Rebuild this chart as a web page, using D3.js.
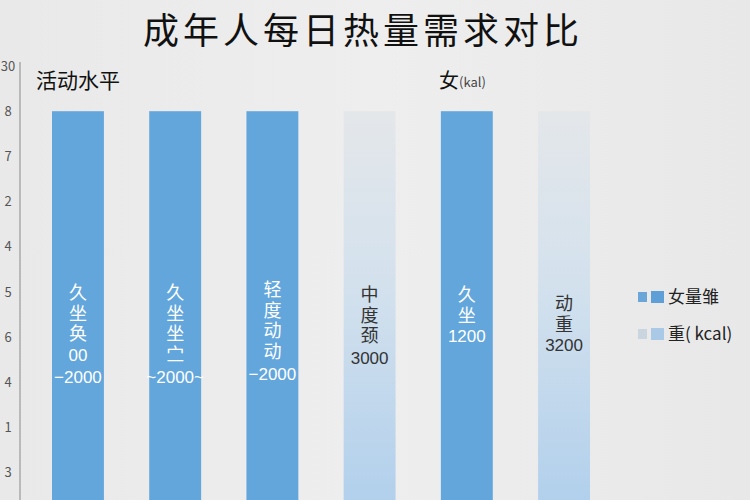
<!DOCTYPE html>
<html>
<head>
<meta charset="utf-8">
<script src="https://cdn.jsdelivr.net/npm/d3@7"></script>
<style>
  body { margin: 0; background: #ebebeb; }
  svg { display: block; font-family: 'Noto Sans CJK SC', 'Noto Sans', sans-serif; }
</style>
</head>
<body>
<svg width="750" height="500"></svg>
<script>
// chart data
const categories = ['a', 'b', 'c', 'd', 'e', 'f'];
const barHeights = [8, 8, 8, 8, 8, 8];
const barKinds = ['dark', 'dark', 'dark', 'light', 'dark', 'light'];
const barLabels = [
  ['久', '坐', '奂', '00', '−2000'],
  ['久', '坐', '坐', '㝉', '~2000~'],
  ['轻', '度', '动', '动', '−2000'],
  ['中', '度', '颈', '3000'],
  ['久', '坐', '1200'],
  ['动', '重', '3200'],
];
// y tick labels, bottom to top
const yTickLabels = ['3', '1', '4', '6', '5', '4', '2', '7', '8', '30'];
const legendLabels = ['女量雏', '重( kcal)'];

const svg = d3.select('svg'),
  width = +svg.attr('width'),
  height = +svg.attr('height');

const defs = svg.append('defs');
const bg = defs.append('linearGradient').attr('id', 'bg').attr('x1', 0).attr('x2', 1);
bg.append('stop').attr('offset', '0%').attr('stop-color', '#e9e9e9');
bg.append('stop').attr('offset', '50%').attr('stop-color', '#eeeeee');
bg.append('stop').attr('offset', '100%').attr('stop-color', '#e8e8e8');

const light = defs.append('linearGradient').attr('id', 'light')
  .attr('x1', 0).attr('x2', 0).attr('y1', 0).attr('y2', 1);
light.append('stop').attr('offset', '0%').attr('stop-color', '#e4e7ea');
light.append('stop').attr('offset', '45%').attr('stop-color', '#d3e1ed');
light.append('stop').attr('offset', '100%').attr('stop-color', '#b2d0ec');

svg.append('rect').attr('width', width).attr('height', height).attr('fill', 'url(#bg)');

const x = d3.scaleBand()
  .domain(categories)
  .range([52, 590])
  .paddingInner(0.466)
  .paddingOuter(0);

const y = d3.scaleLinear().domain([-0.6, 9]).range([height, 66]);

// y axis
svg.append('line')
  .attr('x1', 20).attr('x2', 20)
  .attr('y1', 62).attr('y2', height)
  .attr('stroke', '#9a9a9a').attr('stroke-width', 1.2);

svg.append('g')
  .selectAll('text')
  .data(yTickLabels)
  .join('text')
  .attr('x', 8)
  .attr('y', (d, i) => y(i))
  .attr('dy', '0.35em')
  .attr('text-anchor', 'middle')
  .attr('font-size', 13)
  .attr('fill', '#555')
  .text((d) => d);

// bars
svg.append('g')
  .selectAll('rect')
  .data(categories)
  .join('rect')
  .attr('x', (d) => x(d))
  .attr('y', (d, i) => y(barHeights[i]))
  .attr('width', x.bandwidth())
  .attr('height', (d, i) => y(-0.6) - y(barHeights[i]))
  .attr('fill', (d, i) => (barKinds[i] === 'dark' ? '#62a6dc' : 'url(#light)'));

// labels inside bars, one text per bar, one line per tspan
const labelTop = [293, 293, 290, 295, 295, 304];
categories.forEach(function (c, i) {
  const lines = barLabels[i];
  const dark = barKinds[i] === 'dark';
  const cx = x(c) + x.bandwidth() / 2;
  const t = svg.append('text')
    .attr('x', cx)
    .attr('y', labelTop[i])
    .attr('text-anchor', 'middle')
    .style('font-family', "'Liberation Sans', 'Noto Sans CJK SC', sans-serif")
    .attr('fill', dark ? '#ffffff' : '#333');
  t.selectAll('tspan')
    .data(lines)
    .join('tspan')
    .attr('x', cx)
    .attr('dy', (d, j) => (j === 0 ? '0.35em' : j === lines.length - 1 && lines.length > 3 ? 22 : 20.5))
    .attr('font-size', (d) => (/[0-9]/.test(d) ? 17 : 18))
    .text((d) => d);
});

// title and headings
svg.append('text')
  .attr('x', 363).attr('y', 44)
  .attr('text-anchor', 'middle')
  .attr('font-size', 36)
  .attr('letter-spacing', 4)
  .attr('fill', '#111')
  .text('成年人每日热量需求对比');

svg.append('text')
  .attr('x', 36).attr('y', 88)
  .attr('font-size', 21)
  .attr('fill', '#111')
  .text('活动水平');

const hdr = svg.append('text').attr('x', 439).attr('y', 88).attr('fill', '#111');
hdr.append('tspan').attr('font-size', 20).text('女');
hdr.append('tspan').attr('font-size', 13).attr('fill', '#444').attr('dy', -1).text('(kal)');

// legend
const legendSwatches = [
  ['#6aa7d8', '#5e9fd7'],
  ['#c9d6e0', '#a9c9e6'],
];
const legend = svg.append('g');
legendLabels.forEach(function (l, i) {
  const ly = 297 + i * 37;
  legend.append('rect').attr('x', 638).attr('y', ly - 5).attr('width', 9).attr('height', 10)
    .attr('fill', legendSwatches[i][0]);
  legend.append('rect').attr('x', 651).attr('y', ly - 6).attr('width', 13).attr('height', 12)
    .attr('fill', legendSwatches[i][1]);
  legend.append('text').attr('x', 668).attr('y', ly).attr('dy', '0.35em')
    .attr('font-size', 17).attr('fill', '#222').text(l);
});
</script>
</body>
</html>
